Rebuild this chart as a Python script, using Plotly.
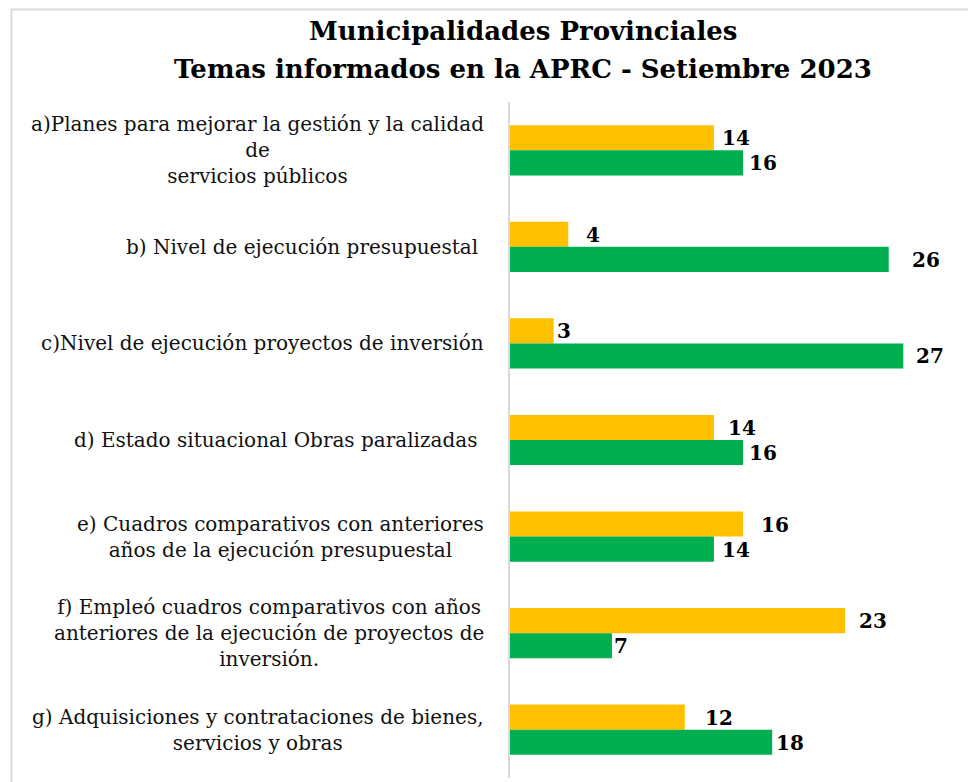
import plotly.graph_objects as go

categories = [
    "a)Planes para mejorar la gestión y la calidad<br>de<br>servicios públicos",
    "b) Nivel de ejecución presupuestal ",
    "c)Nivel de ejecución proyectos de inversión",
    "d) Estado situacional Obras paralizadas ",
    "e) Cuadros comparativos con anteriores<br>años de la ejecución presupuestal",
    "f) Empleó cuadros comparativos con años<br>anteriores de la ejecución de proyectos de<br>inversión.",
    "g) Adquisiciones y contrataciones de bienes,<br>servicios y obras",
]
keys = ["a", "b", "c", "d", "e", "f", "g"]
serie_amarilla = [14, 4, 3, 14, 16, 23, 12]
serie_verde = [16, 26, 27, 16, 14, 7, 18]

title_lines = ["Municipalidades Provinciales", "Temas informados en la APRC - Setiembre 2023"]

# label nudges (px) to mimic manually placed data labels
nudge_amarilla = [6, 16, 1, 12, 16, 12, 18]
nudge_verde = [4, 21, 11, 4, 6, 0, 2]

YELLOW = "#FFC000"
GREEN = "#00B050"
SERIF = "DejaVu Serif"

# page body has an 8px default margin; compensate
OFF = 8
L, T = 510 - OFF, 102 - OFF
PW, PH = 437, 676

fig = go.Figure()
fig.add_trace(go.Bar(y=keys, x=serie_amarilla, orientation="h", marker=dict(color=YELLOW, line=dict(width=0)),
                     name="A", showlegend=False))
fig.add_trace(go.Bar(y=keys, x=serie_verde, orientation="h", marker=dict(color=GREEN, line=dict(width=0)),
                     name="B", showlegend=False))

ann = []
for i, k in enumerate(keys):
    ann.append(dict(x=serie_amarilla[i], y=k, xref="x", yref="y", text=f"<b>{serie_amarilla[i]}</b>",
                    showarrow=False, xanchor="left", yanchor="middle", xshift=nudge_amarilla[i], yshift=12,
                    font=dict(family=SERIF, size=20, color="black")))
    ann.append(dict(x=serie_verde[i], y=k, xref="x", yref="y", text=f"<b>{serie_verde[i]}</b>",
                    showarrow=False, xanchor="left", yanchor="middle", xshift=nudge_verde[i], yshift=-13,
                    font=dict(family=SERIF, size=20, color="black")))
    ann.append(dict(x=0, y=k, xref="paper", yref="y", text=categories[i], showarrow=False,
                    xanchor="right", yanchor="middle", align="center", xshift=-24,
                    font=dict(family=SERIF, size=20, color="#111111")))

title_y = [31, 69]
for line, yc in zip(title_lines, title_y):
    ann.append(dict(x=(523 - 510) / PW, y=(778 - yc) / PH, xref="paper", yref="paper", text="<b>" + line + "</b>",
                    showarrow=False, xanchor="center", yanchor="middle",
                    font=dict(family=SERIF, size=26, color="black")))

fig.update_layout(
    width=976, height=782,
    margin=dict(l=L, r=976 - L - PW, t=T, b=782 - T - PH),
    paper_bgcolor="white", plot_bgcolor="white",
    barmode="group", bargap=0.48, bargroupgap=0,
    xaxis=dict(range=[0, 30], visible=False, showgrid=False, zeroline=False),
    yaxis=dict(autorange="reversed", showticklabels=False, showgrid=False, zeroline=False,
               showline=True, linecolor="#D9D9D9", linewidth=2, ticks=""),
    annotations=ann,
    shapes=[dict(type="rect", xref="paper", yref="paper",
                 x0=(11.5 - 510) / PW, x1=1.2, y0=-0.2, y1=1 + (T - 1.5) / PH,
                 line=dict(color="#D9D9D9", width=2), fillcolor="rgba(0,0,0,0)", layer="below")],
)

fig.write_html("out.html")
